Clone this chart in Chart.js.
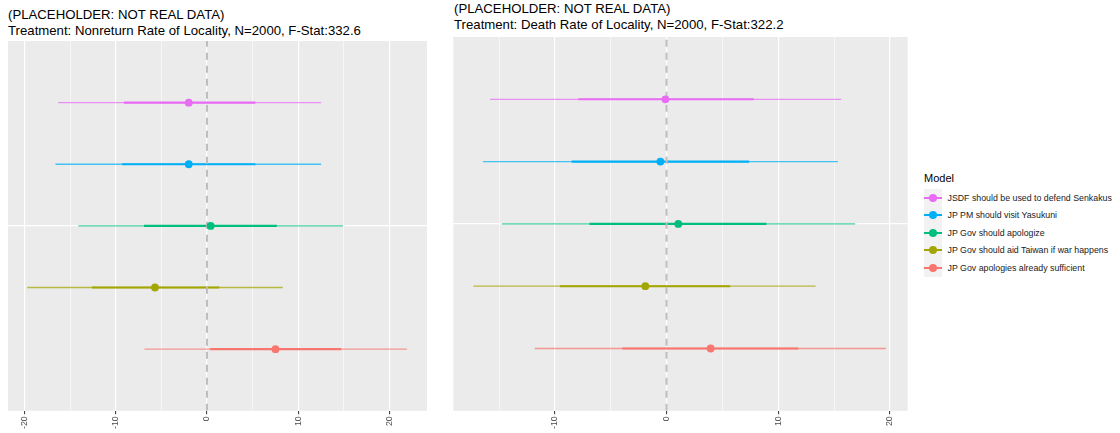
<!DOCTYPE html>
<html>
<head>
<meta charset="utf-8">
<script src="https://cdn.jsdelivr.net/npm/chart.js@4.4.0/dist/chart.umd.min.js"></script>
<style>
  body { margin:0; background:#fff; width:1120px; height:433px; position:relative; overflow:hidden; font-family:"Liberation Sans", Arial, sans-serif; }
  canvas { position:absolute; top:0; }
  .ttl { position:absolute; font-size:13.2px; line-height:15.5px; color:#000; white-space:nowrap; }
  #legend { position:absolute; left:924px; top:189px; }
  #legtitle { position:absolute; left:924px; top:172.5px; font-size:11px; line-height:11px; color:#000; }
  .row { display:flex; align-items:center; height:17.5px; }
  .key { position:relative; width:17.5px; height:17.5px; background:#F2F2F2; }
  .key .ln { position:absolute; left:0; right:0; top:7.75px; height:2px; }
  .key .dt { position:absolute; left:4.75px; top:4.75px; width:8px; height:8px; border-radius:50%; }
  .lab { margin-left:6px; font-size:8.8px; color:#1a1a1a; white-space:nowrap; }
</style>
</head>
<body>
<div class="ttl" style="left:8px; top:7px;">(PLACEHOLDER: NOT REAL DATA)<br>Treatment: Nonreturn Rate of Locality, N=2000, F-Stat:332.6</div>
<div class="ttl" style="left:454px; top:1px;">(PLACEHOLDER: NOT REAL DATA)<br>Treatment: Death Rate of Locality, N=2000, F-Stat:322.2</div>
<canvas id="c1" width="440" height="433" style="left:0;"></canvas>
<canvas id="c2" width="480" height="433" style="left:440px;"></canvas>
<div id="legtitle">Model</div>
<div id="legend"></div>
<script>
// models, top to bottom
var models = ["JSDF should be used to defend Senkakus", "JP PM should visit Yasukuni", "JP Gov should apologize", "JP Gov should aid Taiwan if war happens", "JP Gov apologies already sufficient"];
var colors = ["#E76BF3", "#00B0F6", "#00BF7D", "#A3A500", "#F8766D"];
var rows = [5, 4, 3, 2, 1];

// panel 1: nonreturn rate
var est1 = [-2.0, -2.0, 0.4, -5.7, 7.5];
var lo95_1 = [-16.3, -16.6, -14.1, -19.7, -6.85];
var hi95_1 = [12.5, 12.5, 14.9, 8.3, 21.9];
var loIn_1 = [-9.1, -9.3, -6.9, -12.6, 0.35];
var hiIn_1 = [5.3, 5.3, 7.65, 1.35, 14.7];

// panel 2: death rate
var est2 = [-0.1, -0.55, 1.05, -1.9, 3.95];
var lo95_2 = [-15.8, -16.45, -14.75, -17.3, -11.8];
var hi95_2 = [15.65, 15.35, 16.9, 13.35, 19.65];
var loIn_2 = [-7.9, -8.5, -6.9, -9.55, -3.95];
var hiIn_2 = [7.8, 7.4, 8.95, 5.7, 11.8];

var xTicks = [-20, -15, -10, -5, 0, 5, 10, 15, 20];

Chart.defaults.font.family = "'Liberation Sans', Arial, sans-serif";

function alpha(hex, a) {
  var r = parseInt(hex.substr(1,2),16), g = parseInt(hex.substr(3,2),16), b = parseInt(hex.substr(5,2),16);
  return "rgba(" + r + "," + g + "," + b + "," + a + ")";
}

// gray panel background like ggplot
var panelBg = {
  id: "panelBg",
  beforeDraw: function(chart) {
    var a = chart.chartArea, ctx = chart.ctx;
    ctx.save();
    ctx.fillStyle = "#EBEBEB";
    ctx.fillRect(a.left, a.top, a.right - a.left, a.bottom - a.top);
    ctx.restore();
  }
};

function makeChart(id, est, lo, hi, loIn, hiIn, xMin, xMax, pad) {
  var ds = [];
  ds.push({
    data: rows.map(function(r, i) { return {x: est[i], y: r}; }),
    pointBackgroundColor: colors, pointBorderWidth: 0, pointRadius: 3.9, order: 0
  });
  ds.push({
    data: [{x: 0, y: 0}, {x: 0, y: 6}], showLine: true, pointRadius: 0,
    borderColor: "#BEBEBE", borderWidth: 2, borderDash: [7, 6], order: 1
  });
  for (var i = 0; i < models.length; i++) {
    ds.push({
      data: [{x: loIn[i], y: rows[i]}, {x: hiIn[i], y: rows[i]}], showLine: true, pointRadius: 0,
      borderColor: colors[i], borderWidth: 2.1, order: 2
    });
    ds.push({
      data: [{x: lo[i], y: rows[i]}, {x: hi[i], y: rows[i]}], showLine: true, pointRadius: 0,
      borderColor: alpha(colors[i], 0.72), borderWidth: 1.3, order: 3
    });
  }
  return new Chart(document.getElementById(id), {
    type: "scatter",
    data: { datasets: ds },
    options: {
      responsive: false,
      animation: false,
      layout: { padding: pad },
      plugins: { legend: { display: false }, tooltip: { enabled: false } },
      scales: {
        x: {
          type: "linear", min: xMin, max: xMax,
          afterBuildTicks: function(s) {
            s.ticks = xTicks.filter(function(v) { return v >= xMin && v <= xMax; }).map(function(v) { return {value: v}; });
          },
          ticks: {
            minRotation: 90, maxRotation: 90, autoSkip: false, padding: 2,
            color: "#4D4D4D", font: { size: 8.8 },
            callback: function(v) { return v % 10 === 0 ? String(v) : ""; }
          },
          grid: {
            color: "#FFFFFF",
            lineWidth: function(c) { return c.tick && c.tick.value % 10 === 0 ? 1.2 : 0.6; },
            tickLength: 3.5, tickWidth: 1,
            tickColor: function(c) { return c.tick && c.tick.value % 10 === 0 ? "#333333" : "rgba(0,0,0,0)"; }
          },
          border: { display: false }
        },
        y: {
          type: "linear", min: 0, max: 6,
          afterBuildTicks: function(s) { s.ticks = [{value: 3}]; },
          ticks: { display: false },
          grid: { drawTicks: false, tickLength: 0, color: "#FFFFFF", lineWidth: 1.2 },
          border: { display: false }
        }
      }
    },
    plugins: [panelBg]
  });
}

makeChart("c1", est1, lo95_1, hi95_1, loIn_1, hiIn_1, -21.8, 24.1, {left: 8, right: 13, top: 41, bottom: 2});
makeChart("c2", est2, lo95_2, hi95_2, loIn_2, hiIn_2, -19.1, 21.6, {left: 13.3, right: 12.3, top: 37, bottom: 2});

// legend
var leg = document.getElementById("legend");
models.forEach(function(m, i) {
  var row = document.createElement("div");
  row.className = "row";
  row.innerHTML = '<div class="key"><div class="ln" style="background:' + colors[i] + '"></div><div class="dt" style="background:' + colors[i] + '"></div></div><span class="lab">' + m + '</span>';
  leg.appendChild(row);
});
</script>
</body>
</html>
